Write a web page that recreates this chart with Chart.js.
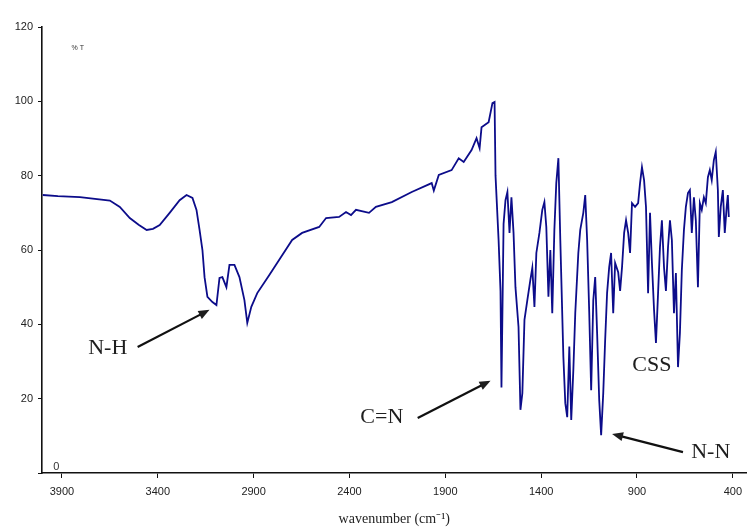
<!DOCTYPE html>
<html>
<head>
<meta charset="utf-8">
<script src="https://cdn.jsdelivr.net/npm/chart.js@4.4.1/dist/chart.umd.min.js"></script>
<style>
  html, body { margin: 0; padding: 0; background: #fff; }
  #wrap { width: 749px; height: 528px; }
</style>
</head>
<body>
<div id="wrap"><canvas id="irChart" width="749" height="528"></canvas></div>
<script>
// IR spectrum
const wavenumbers = [
  4000, 3921, 3806, 3650, 3598, 3546, 3500, 3458, 3425, 3390, 3338, 3286, 3250, 3219,
  3198, 3182, 3167, 3156, 3141, 3115, 3094, 3078, 3063, 3042, 3026, 3000,
  2974, 2948, 2933, 2912, 2881, 2818, 2751, 2699, 2647, 2558, 2522, 2454,
  2418, 2392, 2366, 2298, 2262, 2179, 2075, 1971, 1960, 1934, 1867, 1830,
  1804, 1763, 1737, 1721, 1711, 1674, 1654, 1643, 1638, 1622, 1612, 1607,
  1596, 1586, 1576, 1565, 1555, 1544, 1534, 1518, 1508, 1498, 1487, 1472,
  1456, 1446, 1435, 1425, 1409, 1394, 1383, 1373, 1362, 1352, 1342, 1331,
  1321, 1310, 1300, 1284, 1274, 1264, 1253, 1243, 1232, 1222, 1206, 1196,
  1180, 1170, 1160, 1149, 1139, 1128, 1118, 1108, 1097, 1087, 1076, 1066,
  1056, 1045, 1035, 1024, 1014, 998, 988, 978, 967, 957, 946, 936,
  926, 910, 894, 884, 874, 863, 853, 842, 832, 822, 811, 801,
  790, 780, 770, 759, 749, 738, 728, 718, 707, 697, 686, 676,
  666, 655, 645, 634, 624, 614, 603, 593, 582, 572, 562, 551,
  541, 530, 520, 510, 499, 489, 478, 473, 463, 452, 442, 432,
  426, 421
]
const transmittance = [
  74.8, 74.5, 74.2, 73.3, 71.6, 68.6, 66.8, 65.4, 65.7, 66.7, 70.0, 73.4, 74.8, 74.0,
  70.8, 65.4, 60.0, 52.7, 47.4, 46.0, 45.2, 52.5, 52.7, 50.0, 56.0, 56.0,
  52.7, 46.5, 40.4, 44.7, 48.4, 53.3, 58.6, 62.7, 64.6, 66.2, 68.6, 68.9,
  70.2, 69.4, 70.8, 70.0, 71.6, 72.9, 75.6, 78.0, 76.0, 80.2, 81.5, 84.7,
  83.7, 86.9, 90.1, 87.4, 93.0, 94.4, 99.5, 99.8, 80.0, 62.7, 49.0, 23.0,
  67.0, 73.4, 75.6, 64.6, 74.2, 64.6, 50.0, 39.3, 17.0, 21.5, 41.2, 46.5,
  52.0, 55.2, 44.7, 59.2, 64.6, 70.8, 72.9, 66.2, 47.4, 60.0, 43.0, 65.4,
  78.0, 84.7, 62.7, 31.2, 18.8, 15.0, 34.0, 14.3, 27.7, 43.0, 59.2, 65.4,
  70.0, 74.8, 62.7, 43.0, 22.3, 46.5, 52.7, 37.7, 19.6, 10.2, 21.5, 35.8,
  48.4, 55.4, 59.2, 43.0, 56.5, 54.0, 49.0, 55.4, 64.6, 68.0, 64.6, 59.2,
  72.6, 71.6, 72.6, 78.0, 82.3, 78.8, 71.6, 48.4, 70.0, 56.5, 43.9, 35.0,
  48.4, 60.8, 68.0, 55.4, 49.0, 60.8, 68.0, 62.7, 43.0, 53.8, 28.5, 37.7,
  54.6, 65.4, 71.6, 75.3, 76.1, 64.6, 74.2, 68.0, 50.0, 72.6, 70.8, 74.2,
  72.6, 79.6, 81.5, 78.8, 84.2, 86.4, 76.1, 63.5, 71.6, 76.1, 64.6, 71.6,
  74.8, 68.9
]
const xTicks = [3900, 3400, 2900, 2400, 1900, 1400, 900, 400]
const yTicks = [0, 20, 40, 60, 80, 100, 120]

// band labels: text spot and arrow (tail -> tip) in data units
const bandLabels = [
  { text: 'N-H', x: 3661, y: 33.6, from: [3505, 33.9], to: [3130, 43.9] },
  { text: 'C=N', x: 2231, y: 15.1, from: [2044, 14.8], to: [1664, 24.8] },
  { text: 'N-N', x: 515, y: 5.6, from: [660, 5.6], to: [1030, 10.5] },
  { text: 'CSS', x: 822, y: 29.0 }
]

const points = wavenumbers.map((w, i) => ({ x: w, y: transmittance[i] }))

const bandLabelPlugin = {
  id: 'bandLabels',
  afterDatasetsDraw(chart) {
    const c = chart.ctx
    const xs = chart.scales.x
    const ys = chart.scales.y
    c.save()
    c.fillStyle = '#1e1e1e'
    c.strokeStyle = '#111'
    c.textAlign = 'center'
    c.textBaseline = 'middle'
    c.font = '22px "Liberation Serif", "Times New Roman", serif'
    bandLabels.forEach(b => {
      c.fillText(b.text, xs.getPixelForValue(b.x), ys.getPixelForValue(b.y))
      if (!b.from) return
      const x0 = xs.getPixelForValue(b.from[0])
      const y0 = ys.getPixelForValue(b.from[1])
      const x1 = xs.getPixelForValue(b.to[0])
      const y1 = ys.getPixelForValue(b.to[1])
      const ang = Math.atan2(y1 - y0, x1 - x0)
      const head = 11
      c.lineWidth = 2.2
      c.beginPath()
      c.moveTo(x0, y0)
      c.lineTo(x1 - Math.cos(ang) * head * 0.8, y1 - Math.sin(ang) * head * 0.8)
      c.stroke()
      c.beginPath()
      c.moveTo(x1, y1)
      c.lineTo(x1 - head * Math.cos(ang) + 4.5 * Math.sin(ang),
               y1 - head * Math.sin(ang) - 4.5 * Math.cos(ang))
      c.lineTo(x1 - head * Math.cos(ang) - 4.5 * Math.sin(ang),
               y1 - head * Math.sin(ang) + 4.5 * Math.cos(ang))
      c.closePath()
      c.fill()
    })
    // small "% T" tag and the "0" sitting inside the plot
    c.font = '7px "Liberation Sans", Arial, sans-serif'
    c.fillStyle = '#333'
    c.fillText('% T', xs.getPixelForValue(3817), ys.getPixelForValue(114.3))
    c.font = '11px "Liberation Sans", Arial, sans-serif'
    c.fillText('0', xs.getPixelForValue(3930), ys.getPixelForValue(1.6))
    c.restore()
  }
}

const ctx = document.getElementById('irChart').getContext('2d')
const irChart = new Chart(ctx, {
  type: 'line',
  data: {
    datasets: [{
      data: points,
      borderColor: '#0c0c8a',
      borderWidth: 1.8,
      pointRadius: 0,
      tension: 0,
      fill: false
    }]
  },
  options: {
    responsive: false,
    animation: false,
    devicePixelRatio: 1,
    layout: { padding: { top: 27, left: 0, right: 0, bottom: 0 } },
    plugins: {
      legend: { display: false },
      tooltip: { enabled: false }
    },
    scales: {
      x: {
        type: 'linear',
        reverse: true,
        min: 328,
        max: 4004,
        afterBuildTicks: (scale) => { scale.ticks = xTicks.map(v => ({ value: v })) },
        afterFit: (scale) => { scale.height = 55 },
        border: { display: true, color: '#111', width: 1.6 },
        grid: { drawOnChartArea: false, drawTicks: true, tickLength: 5, color: '#111' },
        ticks: {
          autoSkip: false,
          maxRotation: 0,
          padding: 7,
          color: '#222',
          font: { family: '"Liberation Sans", Arial, sans-serif', size: 11 },
          callback: (v) => String(v)
        },
        title: {
          display: true,
          text: 'wavenumber (cm⁻¹)',
          color: '#222',
          padding: { top: 0, bottom: 0 },
          font: { family: '"Liberation Serif", "Times New Roman", serif', size: 14 }
        }
      },
      y: {
        min: 0,
        max: 120,
        afterBuildTicks: (scale) => { scale.ticks = yTicks.map(v => ({ value: v })) },
        afterFit: (scale) => { scale.width = 42 },
        border: { display: true, color: '#111', width: 1.6 },
        grid: { drawOnChartArea: false, drawTicks: true, tickLength: 4, color: '#111' },
        ticks: {
          padding: 5,
          color: '#222',
          font: { family: '"Liberation Sans", Arial, sans-serif', size: 11 },
          callback: (v) => v === 0 ? '' : String(v)
        }
      }
    }
  },
  plugins: [bandLabelPlugin]
})
</script>
</body>
</html>
